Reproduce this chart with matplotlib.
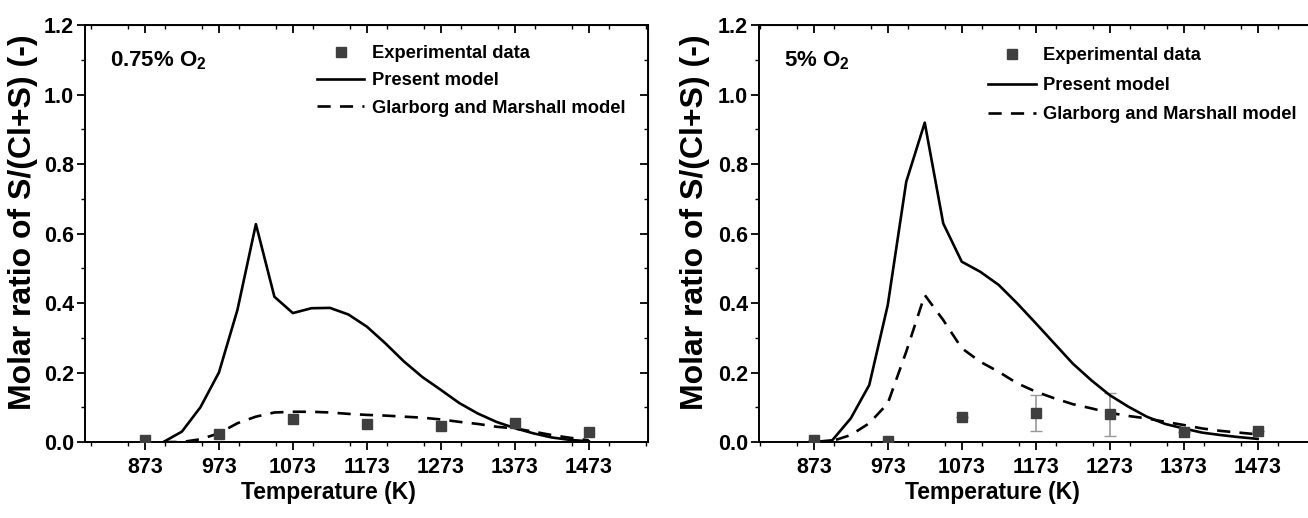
import matplotlib
matplotlib.use('Agg')
import matplotlib.pyplot as plt
from matplotlib.ticker import MultipleLocator

plt.rcParams['font.family'] = ['Liberation Sans', 'DejaVu Sans']
plt.rcParams['font.weight'] = 'bold'
plt.rcParams['mathtext.fontset'] = 'custom'
plt.rcParams['mathtext.bf'] = 'Liberation Sans:bold'
plt.rcParams['mathtext.rm'] = 'Liberation Sans:bold'

# model temperature grid (K)
T_model = [873, 898, 923, 948, 973, 998, 1023, 1048, 1073, 1098, 1123, 1148, 1173,
           1198, 1223, 1248, 1273, 1298, 1323, 1348, 1373, 1398, 1423, 1448, 1473]
T_exp = [873, 973, 1073, 1173, 1273, 1373, 1473]

# 0.75% O2
present_075 = [None, 0.0, 0.03, 0.10, 0.20, 0.38, 0.627, 0.418, 0.371, 0.385, 0.386, 0.367,
               0.332, 0.284, 0.232, 0.187, 0.150, 0.112, 0.082, 0.058, 0.040, 0.025, 0.013,
               0.006, 0.002]
glarborg_075 = [None, 0.0, 0.0, 0.008, 0.025, 0.054, 0.073, 0.085, 0.087, 0.087, 0.085, 0.081,
                0.078, 0.076, 0.073, 0.070, 0.065, 0.058, 0.052, 0.044, 0.039, 0.030, 0.020,
                0.012, 0.005]
exp_075 = [0.005, 0.023, 0.066, 0.052, 0.047, 0.056, 0.029]

# 5% O2
present_5 = [0.0, 0.005, 0.068, 0.164, 0.394, 0.749, 0.919, 0.629, 0.519, 0.490, 0.452, 0.399,
             0.342, 0.284, 0.226, 0.178, 0.135, 0.102, 0.073, 0.052, 0.039, 0.027, 0.020,
             0.014, 0.009]
glarborg_5 = [0.0, 0.003, 0.020, 0.054, 0.111, 0.26, 0.423, 0.351, 0.270, 0.231, 0.202, 0.169,
              0.145, 0.126, 0.109, 0.097, 0.084, 0.075, 0.068, 0.058, 0.049, 0.039, 0.032,
              0.027, 0.022]
exp_5 = [0.005, 0.003, 0.071, 0.083, 0.080, 0.030, 0.032]
err_5 = [0, 0, 0, 0.052, 0.062, 0, 0]

panels = [
    dict(label='0.75% O$_\\mathbf{2}$', present=present_075, glarborg=glarborg_075,
         exp=exp_075, err=None, rect=[0.0650, 0.1467, 0.4304, 0.805], xlim=(792, 1553),
         leg=(0.405, 0.96), legsp=0.55, xlab_x=0.432, ylab_x=-0.083),
    dict(label='5% O$_\\mathbf{2}$', present=present_5, glarborg=glarborg_5,
         exp=exp_5, err=err_5, rect=[0.5803, 0.1467, 0.4304, 0.805], xlim=(799, 1560),
         leg=(0.400, 0.955), legsp=0.68, xlab_x=0.414, ylab_x=-0.087),
]

fig = plt.figure(figsize=(13.08, 5.18), dpi=100)

for p in panels:
    ax = fig.add_axes(p['rect'])
    T_p = [t for t, v in zip(T_model, p['present']) if v is not None]
    v_p = [v for v in p['present'] if v is not None]
    T_g = [t for t, v in zip(T_model, p['glarborg']) if v is not None]
    v_g = [v for v in p['glarborg'] if v is not None]

    ax.plot(T_exp, p['exp'], 's', color='#3f3f3f', markersize=6.5, zorder=3,
            label='Experimental data')
    if p['err'] is not None:
        ax.errorbar(T_exp, p['exp'], yerr=p['err'], fmt='none', ecolor='#999999',
                    elinewidth=1.2, capsize=4, zorder=2)
    ax.plot(T_p, v_p, '-', color='black', linewidth=1.9, label='Present model')
    ax.plot(T_g, v_g, '--', color='black', linewidth=1.9, dashes=(5, 3.5),
            label='Glarborg and Marshall model')

    ax.set_xlim(*p['xlim'])
    ax.set_ylim(0, 1.2)
    ax.set_xticks(T_exp)
    ax.xaxis.set_minor_locator(MultipleLocator(50))
    ax.set_yticks([0.0, 0.2, 0.4, 0.6, 0.8, 1.0, 1.2])
    ax.set_yticklabels(['0.0', '0.2', '0.4', '0.6', '0.8', '1.0', '1.2'])
    ax.yaxis.set_minor_locator(MultipleLocator(0.1))
    ax.tick_params(which='major', direction='out', length=6, width=1.3,
                   labelsize=15.5)
    ax.tick_params(which='minor', direction='out', length=3, width=1.0)
    ax.tick_params(axis='x', which='major', pad=5)
    ax.tick_params(axis='y', which='major', pad=2)
    for s in ax.spines.values():
        s.set_linewidth(1.4)

    # mirrored ticks pointing inwards on top and right
    top = ax.secondary_xaxis('top')
    top.set_xticks(T_exp)
    top.xaxis.set_minor_locator(MultipleLocator(50))
    top.tick_params(which='major', direction='in', length=6, width=1.3, labeltop=False)
    top.tick_params(which='minor', direction='in', length=3, width=1.0)
    right = ax.secondary_yaxis('right')
    right.set_yticks([0.0, 0.2, 0.4, 0.6, 0.8, 1.0, 1.2])
    right.yaxis.set_minor_locator(MultipleLocator(0.1))
    right.tick_params(which='major', direction='in', length=6, width=1.3, labelright=False)
    right.tick_params(which='minor', direction='in', length=3, width=1.0)

    ax.set_xlabel('Temperature (K)', fontsize=16.5, fontweight='bold')
    ax.xaxis.set_label_coords(p['xlab_x'], -0.094)
    ax.set_ylabel('Molar ratio of S/(Cl+S) (-)', fontsize=23, fontweight='bold')
    ax.yaxis.set_label_coords(p['ylab_x'], 0.528)

    ax.text(0.045, 0.915, p['label'], transform=ax.transAxes, fontsize=16,
            fontweight='bold', ha='left', va='center')

    ax.legend(loc='upper left', bbox_to_anchor=p['leg'], frameon=False,
              fontsize=13.2, handlelength=2.6, handletextpad=0.4, labelspacing=p['legsp'],
              borderaxespad=0, borderpad=0.2)

fig.savefig('out.png', dpi=100)
